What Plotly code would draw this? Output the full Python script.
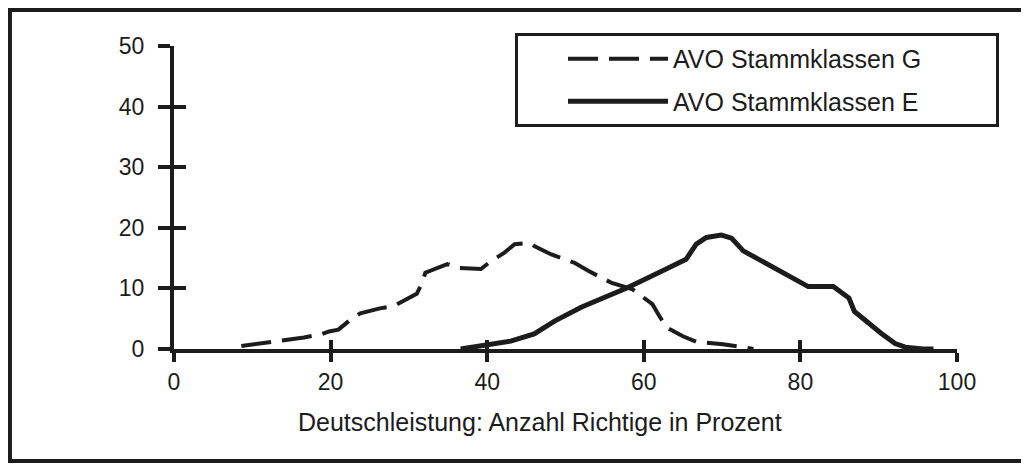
import plotly.graph_objects as go

# ---- data ----
g_name = "AVO Stammklassen G"
g_x = [8.6, 11.6, 13.7, 16.6, 18.7, 19.8, 21.0, 22.5, 23.8, 26.3, 28.1, 31.0, 31.7, 32.1,
       34.9, 36.2, 39.2, 40.5, 42.2, 43.5, 45.4, 46.0, 48.2, 51.2, 52.9, 55.9, 58.5,
       61.1, 62.0, 63.0, 65.0, 66.7, 70.1, 74.0]
g_y = [0.5, 1.0, 1.3, 1.9, 2.4, 2.9, 3.2, 4.8, 5.9, 6.7, 7.1, 9.1, 10.9, 12.6,
       14.0, 13.4, 13.2, 14.5, 15.9, 17.3, 17.5, 17.0, 15.6, 14.2, 12.9, 10.9, 9.9,
       7.4, 5.4, 3.5, 2.1, 1.2, 0.8, 0.0]

e_name = "AVO Stammklassen E"
e_x = [36.6, 40.0, 43.0, 46.0, 48.6, 52.0, 53.8, 57.9, 62.4, 65.4, 66.7, 68.0, 69.9,
       71.2, 72.7, 76.8, 81.0, 84.2, 86.2, 86.9, 87.8, 90.3, 92.1, 93.4, 95.7, 97.0]
e_y = [0.0, 0.8, 1.3, 2.5, 4.6, 6.9, 7.9, 10.1, 12.9, 14.8, 17.3, 18.4, 18.8,
       18.3, 16.2, 13.4, 10.3, 10.3, 8.4, 6.2, 5.2, 2.6, 0.9, 0.3, 0.0, 0.0]

x_ticks = [0, 20, 40, 60, 80, 100]
y_ticks = [0, 10, 20, 30, 40, 50]
x_title = "Deutschleistung: Anzahl Richtige in Prozent"

INK = "#1c1c1c"
FONT = "Liberation Sans, Arial, Helvetica, sans-serif"
PAD = "\u00a0" * 10  # widens the legend box to match the reference

fig = go.Figure()
fig.add_trace(go.Scatter(x=g_x, y=g_y, name=g_name + PAD, mode="lines", legendgroup="g",
                         line=dict(color=INK, width=4, dash="30px,11px")))
fig.add_trace(go.Scatter(x=e_x, y=e_y, name=e_name + PAD, mode="lines", legendgroup="e",
                         line=dict(color=INK, width=5)))
# empty helper trace so the overlay axes (inner tick halves) are drawn
fig.add_trace(go.Scatter(x=[], y=[], xaxis="x2", yaxis="y2", showlegend=False,
                         hoverinfo="skip"))

axis_common = dict(showgrid=False, zeroline=False, tickcolor=INK, tickwidth=4,
                   fixedrange=True)

# page has an 8px body margin, so the figure is sized to fit inside the window
fig.update_layout(
    width=1021, height=456,
    margin=dict(l=166, r=72, t=38, b=115),
    paper_bgcolor="white", plot_bgcolor="white",
    font=dict(family=FONT, color=INK, size=23),
    xaxis=dict(range=[0, 100], tickvals=x_ticks, ticktext=[str(v) for v in x_ticks],
               showline=True, linewidth=4, linecolor=INK, ticks="outside", ticklen=9,
               tickfont=dict(size=23, family=FONT, color=INK), **axis_common),
    yaxis=dict(range=[0, 50], tickvals=y_ticks, ticktext=[str(v) for v in y_ticks],
               showline=True, linewidth=4, linecolor=INK, ticks="outside", ticklen=12,
               ticklabelstandoff=9,
               tickfont=dict(size=23, family=FONT, color=INK), **axis_common),
    xaxis2=dict(range=[0, 100], overlaying="x", anchor="y2", side="bottom",
                tickvals=x_ticks, ticks="inside", ticklen=9, showticklabels=False,
                showline=False, **axis_common),
    yaxis2=dict(range=[0, 50], overlaying="y", anchor="x2", side="left",
                tickvals=y_ticks, ticks="inside", ticklen=12, showticklabels=False,
                showline=False, **axis_common),
    showlegend=True,
    legend=dict(x=0.4355, y=1.043, xanchor="left", yanchor="top",
                bgcolor="white", bordercolor=INK, borderwidth=3,
                font=dict(size=25, family=FONT, color=INK),
                itemwidth=100, indentation=45, tracegroupgap=7,
                traceorder="grouped", itemclick=False, itemdoubleclick=False),
    annotations=[dict(text=x_title, xref="paper", yref="paper", x=0.4674, y=-0.241,
                      xanchor="center", yanchor="middle", showarrow=False,
                      font=dict(size=25, family=FONT, color=INK))],
    shapes=[dict(type="rect", xref="paper", yref="paper",
                 x0=-0.2095, x1=1.0843, y0=-0.3696, y1=1.1188,
                 line=dict(color=INK, width=4), layer="below")],
)

fig.write_html("out.html")
